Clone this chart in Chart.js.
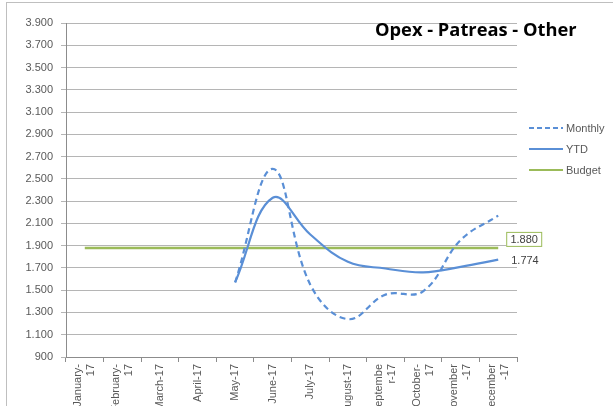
<!DOCTYPE html>
<html>
<head>
<meta charset="utf-8">
<script src="https://cdn.jsdelivr.net/npm/chart.js@4/dist/chart.umd.min.js"></script>
<style>
html, body { margin: 0; padding: 0; background: #fff; }
#wrap { position: relative; width: 613px; height: 406px; overflow: hidden; }
#frame { position: absolute; left: 6px; top: 2px; right: -2px; bottom: -2px;
         border-left: 1px solid #bfbfbf; border-top: 1px solid #bfbfbf; pointer-events: none; }
</style>
</head>
<body>
<div id="wrap">
  <canvas id="opexChart" width="613" height="406"></canvas>
  <div id="frame"></div>
</div>
<script>
// chart data
var chartTitle = "Opex - Patreas - Other";
var months = [["January-", "17"], ["February-", "17"], "March-17", "April-17", "May-17", "June-17",
              "July-17", "August-17", ["Septembe", "r-17"], ["October-", "17"], ["November", "-17"], ["December", "-17"]];
var monthly = [null, null, null, null, 1570, 2590, 1550, 1240, 1460, 1490, 1950, 2170];
var ytd     = [null, null, null, null, 1570, 2330, 2000, 1755, 1695, 1660, 1710, 1774];
var budget  = [1880, 1880, 1880, 1880, 1880, 1880, 1880, 1880, 1880, 1880, 1880, 1880];
var yMin = 900, yMax = 3900, yStep = 200;

var blue = "#5a8fd6";
var green = "#9bbb59";
var textColor = "#595959";
var fontFamily = "'Liberation Sans', Arial, sans-serif";

function fmt(v) {
    // thousands separator is a dot
    return String(Math.round(v)).replace(/\B(?=(\d{3})+(?!\d))/g, ".");
}

var extrasPlugin = {
    id: "extras",
    afterDraw: function(chart) {
        var ctx = chart.ctx;
        ctx.save();

        // x labels, rotated, lines centred on the category
        var xs = chart.scales.x;
        ctx.font = "11px " + fontFamily;
        ctx.fillStyle = textColor;
        ctx.textAlign = "right";
        ctx.textBaseline = "middle";
        months.forEach(function(lab, i) {
            var lines = Array.isArray(lab) ? lab : [lab];
            var px = xs.getPixelForTick(i);
            ctx.save();
            ctx.translate(px, xs.top + 7);
            ctx.rotate(-Math.PI / 2);
            lines.forEach(function(line, j) {
                var off = (j - (lines.length - 1) / 2) * 13;
                ctx.fillText(line, 0, off);
            });
            ctx.restore();
        });

        // title
        ctx.fillStyle = "#000";
        ctx.font = "bold 16px 'Open Sans', " + fontFamily;
        var w = ctx.measureText(chartTitle).width;
        ctx.font = "bold " + (16 * 202 / w).toFixed(1) + "px 'Open Sans', " + fontFamily;
        ctx.textAlign = "left";
        ctx.textBaseline = "middle";
        ctx.fillText(chartTitle, 375, 31);

        // legend
        var items = [
            { text: "Monthly", color: blue, dash: [5, 3] },
            { text: "YTD", color: blue, dash: [] },
            { text: "Budget", color: green, dash: [] }
        ];
        ctx.font = "11px " + fontFamily;
        ctx.textAlign = "left";
        items.forEach(function(it, i) {
            var y = 128 + i * 21;
            ctx.strokeStyle = it.color;
            ctx.lineWidth = 2.2;
            ctx.setLineDash(it.dash);
            ctx.beginPath();
            ctx.moveTo(529, y);
            ctx.lineTo(563, y);
            ctx.stroke();
            ctx.setLineDash([]);
            ctx.fillStyle = textColor;
            ctx.fillText(it.text, 566, y + 1);
        });

        // data labels at the last point
        var last = months.length - 1;
        var pBudget = chart.getDatasetMeta(2).data[last];
        var pYtd = chart.getDatasetMeta(1).data[last];

        ctx.fillStyle = "#fff";
        ctx.strokeStyle = green;
        ctx.lineWidth = 1;
        ctx.fillRect(pBudget.x + 8, pBudget.y - 16, 36, 15);
        ctx.strokeRect(pBudget.x + 8.5, pBudget.y - 15.5, 35, 14);
        ctx.fillStyle = "#404040";
        ctx.textAlign = "center";
        ctx.fillText(fmt(budget[last]), pBudget.x + 26, pBudget.y - 8);

        ctx.textAlign = "left";
        ctx.fillText(fmt(ytd[last]), pYtd.x + 13, pYtd.y + 1);

        ctx.restore();
    }
};

var chartData = {
    labels: months,
    datasets: [
        {
            label: "Monthly",
            data: monthly,
            borderColor: blue,
            borderWidth: 2.2,
            borderDash: [6, 4],
            pointRadius: 0,
            tension: 0.4,
            fill: false
        },
        {
            label: "YTD",
            data: ytd,
            borderColor: blue,
            borderWidth: 2.2,
            pointRadius: 0,
            tension: 0.4,
            fill: false
        },
        {
            label: "Budget",
            data: budget,
            borderColor: green,
            borderWidth: 2.5,
            pointRadius: 0,
            tension: 0,
            fill: false
        }
    ]
};

var chartOptions = {
    responsive: false,
    animation: false,
    devicePixelRatio: 1,
    layout: { padding: { top: 23, right: 96, left: 0, bottom: 0 } },
    plugins: {
        legend: { display: false },
        tooltip: { enabled: false }
    },
    scales: {
        x: {
            offset: true,
            grid: { offset: true, drawOnChartArea: false, drawTicks: true, tickLength: 5, color: "#8c8c8c" },
            border: { color: "#8c8c8c" },
            ticks: { display: false },
            afterFit: function(scale) { scale.height = 49; }
        },
        y: {
            min: yMin,
            max: yMax,
            grid: { color: "#b5b5b5", tickLength: 5 },
            border: { color: "#8c8c8c" },
            ticks: {
                stepSize: yStep,
                padding: 8,
                color: textColor,
                font: { family: fontFamily, size: 11 },
                callback: function(v) { return fmt(v); }
            },
            afterFit: function(scale) { scale.width = 66; }
        }
    }
};

new Chart(document.getElementById("opexChart").getContext("2d"), {
    type: "line",
    data: chartData,
    options: chartOptions,
    plugins: [extrasPlugin]
});
</script>
</body>
</html>
